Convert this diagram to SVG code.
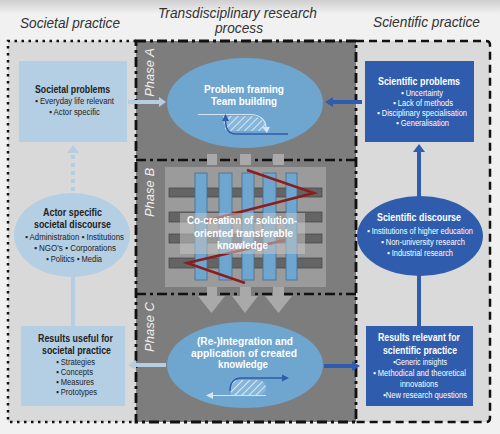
<svg xmlns="http://www.w3.org/2000/svg" width="500" height="434" viewBox="0 0 500 434">
<style>
.ttl{font-family:"Liberation Sans",Arial,sans-serif;font-style:italic;font-size:14px;fill:#333}
.ph{font-family:"Liberation Sans",Arial,sans-serif;font-style:italic;font-size:13px;fill:#f0f0f0}
.hd{font-family:"Liberation Sans",Arial,sans-serif;font-weight:bold;font-size:10px;text-anchor:middle}
.bl{font-family:"Liberation Sans","DejaVu Sans",Arial,sans-serif;font-size:8.5px;text-anchor:middle}
.bll{font-family:"Liberation Sans","DejaVu Sans",Arial,sans-serif;font-size:8.5px}
.el{font-family:"Liberation Sans",Arial,sans-serif;font-weight:bold;font-size:11.5px;fill:#fff;text-anchor:middle}
.dk{fill:#222}
.wt{fill:#fff}
.lb{fill:#b4cee4}
.mb{fill:#6ea6cf}
.db{fill:#2f5cac}
</style>
<defs>
<linearGradient id="topg" x1="0" y1="0" x2="0" y2="1">
<stop offset="0" stop-color="#cfcfcf"/>
<stop offset="1" stop-color="#f1f1f1"/>
</linearGradient>
<pattern id="hatch" width="5" height="5" patternUnits="userSpaceOnUse" patternTransform="rotate(45)">
<rect width="5" height="5" fill="#86b6da"/>
<line x1="0" y1="0" x2="0" y2="5" stroke="#d8e8f4" stroke-width="2"/>
</pattern>
</defs>
<rect width="500" height="434" fill="#f1f1f1"/>
<rect width="500" height="14" fill="url(#topg)"/>

<g id="titles">
<text class="ttl" x="70" y="28" text-anchor="middle" textLength="100" lengthAdjust="spacingAndGlyphs">Societal practice</text>
<text class="ttl" x="237.5" y="18" text-anchor="middle" textLength="159" lengthAdjust="spacingAndGlyphs">Transdisciplinary research</text>
<text class="ttl" x="239" y="33" text-anchor="middle" textLength="48" lengthAdjust="spacingAndGlyphs">process</text>
<text class="ttl" x="426.5" y="27" text-anchor="middle" textLength="107" lengthAdjust="spacingAndGlyphs">Scientific practice</text>
</g>

<g id="panels">
<rect x="8" y="41" width="128" height="381" fill="#d9d9d9"/>
<path d="M356,41 H486 Q490,41 490,45 V418 Q490,422 486,422 H356 Z" fill="#dadada"/>
<rect x="136" y="41" width="220" height="381" fill="#7d7d7d"/>
<path d="M136,41 H8 V422 H136" fill="none" stroke="#111" stroke-width="2.5" stroke-dasharray="2.5 4.5"/>
<path d="M356,41 H486 Q490,41 490,45 V418 Q490,422 486,422 H356" fill="none" stroke="#111" stroke-width="2.5" stroke-dasharray="8 5"/>
<rect x="136" y="41" width="220" height="381" fill="none" stroke="#111" stroke-width="2.8" stroke-dasharray="10 4 3 4"/>
<line x1="136" y1="160" x2="356" y2="160" stroke="#111" stroke-width="2.5" stroke-dasharray="10 4 3 4"/>
<line x1="136" y1="294" x2="356" y2="294" stroke="#111" stroke-width="2.5" stroke-dasharray="10 4 3 4"/>
<text class="ph" transform="translate(153.5,72.5) rotate(-90)" text-anchor="middle">Phase A</text>
<text class="ph" transform="translate(153.5,192.5) rotate(-90)" text-anchor="middle">Phase B</text>
<text class="ph" transform="translate(153.5,327) rotate(-90)" text-anchor="middle">Phase C</text>
</g>

<g id="phaseB">
<rect x="165" y="167" width="161" height="120" fill="#9b9b9b"/>
<g fill="#a9a9a9">
<rect x="207" y="154" width="10" height="11"/>
<rect x="240" y="154" width="11" height="11"/>
<rect x="273" y="154" width="11" height="11"/>
<rect x="207" y="287" width="10" height="9"/>
<rect x="240" y="287" width="11" height="9"/>
<rect x="273" y="287" width="11" height="9"/>
<polygon points="198,296 225,296 211.5,313"/>
<polygon points="232,296 258,296 245,313"/>
<polygon points="265,296 292,296 278.5,313"/>
</g>
<g fill="#646464" stroke="#4a4a4a" stroke-width="0.8">
<rect x="169" y="188" width="153" height="9"/>
<rect x="169" y="212" width="153" height="10"/>
<rect x="169" y="234" width="153" height="9"/>
<rect x="169" y="258" width="153" height="10"/>
</g>
<g fill="#6ea6cf" stroke="#3f6f96" stroke-width="0.8">
<rect x="195" y="173" width="12" height="107"/>
<rect x="219" y="173" width="13" height="107"/>
<rect x="242" y="173" width="12" height="107"/>
<rect x="263" y="173" width="13" height="107"/>
<rect x="286" y="173" width="11" height="107"/>
</g>
<g fill="none" stroke="#8a1d1d" stroke-width="2.5" stroke-linejoin="miter">
<polyline points="247,170 314,193 205,221"/>
<polyline points="285,240 187,263 245,283"/>
</g>
<rect x="180" y="213" width="125" height="41" fill="#c4c4c4" fill-opacity="0.55"/>
<text class="el" x="242" y="224" textLength="110" lengthAdjust="spacingAndGlyphs">Co-creation of solution-</text>
<text class="el" x="243.5" y="237" textLength="99" lengthAdjust="spacingAndGlyphs">oriented transferable</text>
<text class="el" x="242.5" y="249" textLength="51" lengthAdjust="spacingAndGlyphs">knowledge</text>
</g>

<g id="connectors">
<polygon class="lb" points="128,100 159,100 159,97 166,102 159,107 159,104 128,104"/>
<polygon class="db" points="362,100 333,100 333,97 325,102 333,107 333,104 362,104"/>
<polygon class="lb" points="166,363 136,363 136,360 128,365 136,370 136,367 166,367"/>
<polygon class="db" points="324,364 352,364 352,361 360,366 352,371 352,368 324,368"/>
<line x1="73" y1="191" x2="73" y2="153" stroke="#b4cee4" stroke-width="4" stroke-dasharray="4 4"/>
<polygon class="lb" points="73,145 79,153 67,153"/>
<line x1="73" y1="276" x2="73" y2="326" stroke="#b4cee4" stroke-width="4"/>
<line x1="419" y1="151" x2="419" y2="197" stroke="#2f5cac" stroke-width="4"/>
<polygon class="db" points="419,144 425,152 413,152"/>
<line x1="419" y1="275" x2="419" y2="326" stroke="#2f5cac" stroke-width="4"/>
</g>

<g id="societal-problems">
<rect class="lb" x="19" y="61" width="108" height="81"/>
<text class="hd dk" x="72.5" y="93" textLength="75" lengthAdjust="spacingAndGlyphs">Societal problems</text>
<text class="bl dk" x="74.5" y="104" textLength="79" lengthAdjust="spacingAndGlyphs">▪ Everyday life relevant</text>
<text class="bl dk" x="74.5" y="115" textLength="51" lengthAdjust="spacingAndGlyphs">▪ Actor specific</text>
</g>

<g id="actor-discourse">
<ellipse class="lb" cx="72" cy="235" rx="58" ry="42"/>
<text class="hd dk" x="72.5" y="216" textLength="59" lengthAdjust="spacingAndGlyphs">Actor specific</text>
<text class="hd dk" x="72.5" y="228" textLength="77" lengthAdjust="spacingAndGlyphs">societal discourse</text>
<text class="bl dk" x="74.5" y="240" textLength="99" lengthAdjust="spacingAndGlyphs">▪ Administration  ▪ Institutions</text>
<text class="bl dk" x="75" y="251" textLength="82" lengthAdjust="spacingAndGlyphs">▪ NGO's  ▪ Corporations</text>
<text class="bl dk" x="74" y="262" textLength="56" lengthAdjust="spacingAndGlyphs">▪ Politics ▪ Media</text>
</g>

<g id="results-societal">
<rect class="lb" x="21" y="326" width="104" height="80"/>
<text class="hd dk" x="75.5" y="342" textLength="75" lengthAdjust="spacingAndGlyphs">Results useful for</text>
<text class="hd dk" x="76.5" y="354" textLength="69" lengthAdjust="spacingAndGlyphs">societal practice</text>
<text class="bll dk" x="56" y="365" textLength="39" lengthAdjust="spacingAndGlyphs">▪ Strategies</text>
<text class="bll dk" x="56" y="375" textLength="37" lengthAdjust="spacingAndGlyphs">▪ Concepts</text>
<text class="bll dk" x="56" y="385" textLength="38" lengthAdjust="spacingAndGlyphs">▪ Measures</text>
<text class="bll dk" x="56" y="395" textLength="41" lengthAdjust="spacingAndGlyphs">▪ Prototypes</text>
</g>

<g id="phaseA-problem-framing">
<ellipse class="mb" cx="245" cy="103" rx="78" ry="45"/>
<text class="el" x="244" y="93" textLength="80" lengthAdjust="spacingAndGlyphs">Problem framing</text>
<text class="el" x="244" y="105" textLength="66" lengthAdjust="spacingAndGlyphs">Team building</text>
<line x1="198" y1="114.5" x2="250" y2="114.5" stroke="#d4e6f3" stroke-width="1.2"/>
<path d="M223,116 H250 C262,116 267,124 267,131 H226 C224,126 223,121 223,116 Z" fill="url(#hatch)"/>
<path d="M250,114.5 C262,114.5 266,122 266,128" fill="none" stroke="#d4e6f3" stroke-width="1.2"/>
<polygon points="262,127 270,127 267,133" fill="#d4e6f3"/>
<path d="M288,134 H236 C229,134 225.5,129 225.5,120" fill="none" stroke="#2f5cac" stroke-width="1.5"/>
<polygon points="225.5,114 229,121 222,121" fill="#2f5cac"/>
</g>

<g id="phaseC-integration">
<ellipse class="mb" cx="245" cy="365" rx="78" ry="43"/>
<text class="el" x="245" y="345" textLength="96" lengthAdjust="spacingAndGlyphs">(Re-)Integration and</text>
<text class="el" x="244" y="357" textLength="106" lengthAdjust="spacingAndGlyphs">application of created</text>
<text class="el" x="243" y="368" textLength="50" lengthAdjust="spacingAndGlyphs">knowledge</text>
<path d="M231,380 H258 C263,380 266,384 266,388 C266,392 263,395 258,395 H231 Z" fill="url(#hatch)"/>
<path d="M230,391 C230,383 234,378 242,378 H283" fill="none" stroke="#2f5cac" stroke-width="1.5"/>
<polygon points="289,378 282,374.5 282,381.5" fill="#2f5cac"/>
<line x1="266" y1="395.5" x2="212" y2="395.5" stroke="#d4e6f3" stroke-width="1.2"/>
<polygon points="206,395.5 213,392 213,399" fill="#d4e6f3"/>
</g>

<g id="scientific-problems">
<rect class="db" x="365" y="61" width="109" height="81"/>
<text class="hd wt" x="419" y="85" textLength="82" lengthAdjust="spacingAndGlyphs">Scientific problems</text>
<text class="bl wt" x="422" y="96" textLength="42" lengthAdjust="spacingAndGlyphs">▪ Uncertainty</text>
<text class="bl wt" x="423" y="106" textLength="60" lengthAdjust="spacingAndGlyphs">▪ Lack of methods</text>
<text class="bl wt" x="422" y="116" textLength="90" lengthAdjust="spacingAndGlyphs">▪ Disciplinary specialisation</text>
<text class="bl wt" x="422.5" y="126" textLength="53" lengthAdjust="spacingAndGlyphs">▪ Generalisation</text>
</g>

<g id="scientific-discourse">
<ellipse class="db" cx="420" cy="236" rx="63" ry="40"/>
<text class="hd wt" x="419" y="221" textLength="84" lengthAdjust="spacingAndGlyphs">Scientific discourse</text>
<text class="bl wt" x="420" y="234" textLength="106" lengthAdjust="spacingAndGlyphs">▪ Institutions of higher education</text>
<text class="bl wt" x="423" y="245" textLength="84" lengthAdjust="spacingAndGlyphs">▪ Non-university research</text>
<text class="bl wt" x="420" y="256" textLength="66" lengthAdjust="spacingAndGlyphs">▪ Industrial research</text>
</g>

<g id="results-scientific">
<rect class="db" x="366" y="326" width="107" height="80"/>
<text class="hd wt" x="419" y="341" textLength="82" lengthAdjust="spacingAndGlyphs">Results relevant for</text>
<text class="hd wt" x="420" y="354" textLength="74" lengthAdjust="spacingAndGlyphs">scientific practice</text>
<text class="bl wt" x="420" y="365" textLength="54" lengthAdjust="spacingAndGlyphs">▪Generic insights</text>
<text class="bl wt" x="419.5" y="376" textLength="93" lengthAdjust="spacingAndGlyphs">▪ Methodical and theoretical</text>
<text class="bl wt" x="419" y="387" textLength="38" lengthAdjust="spacingAndGlyphs">innovations</text>
<text class="bl wt" x="425" y="398" textLength="84" lengthAdjust="spacingAndGlyphs">▪New research questions</text>
</g>
</svg>
